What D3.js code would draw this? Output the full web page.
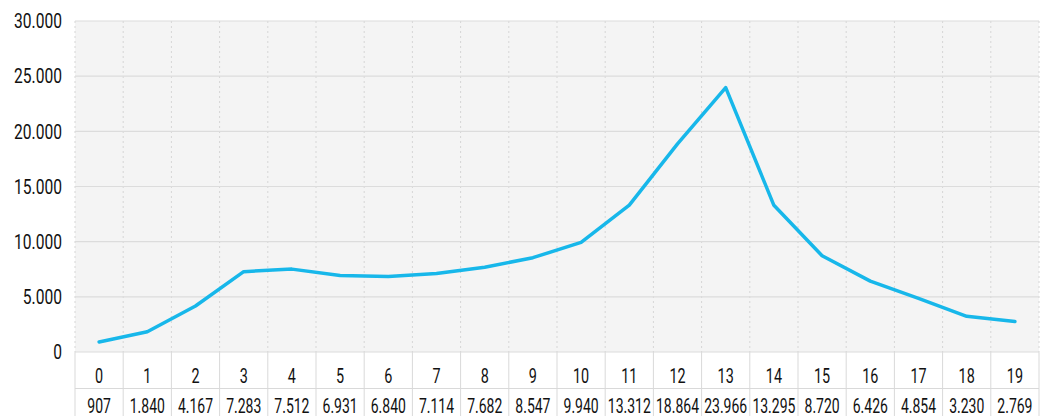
<!DOCTYPE html>
<html><head><meta charset="utf-8">
<script src="https://cdn.jsdelivr.net/npm/d3@7"></script>
<style>
html,body{margin:0;padding:0;background:#fff;}
text{font-family:Roboto,"Liberation Sans",sans-serif;fill:#111;}
</style></head>
<body><svg id="c" width="1041" height="416"></svg>
<script>
const categories = ["0","1","2","3","4","5","6","7","8","9","10","11","12","13","14","15","16","17","18","19"];
const values = [907,1840,4167,7283,7512,6931,6840,7114,7682,8547,9940,13312,18864,23966,13295,8720,6426,4854,3230,2769];
const yTicks = [0,5000,10000,15000,20000,25000,30000];

const svg = d3.select("#c");
const L = 75, R = 1039, T = 21, B = 352;
const x = d3.scaleBand().domain(categories).range([L, R]);
const y = d3.scaleLinear().domain([0, 30000]).range([B, T]);
const fmt = v => d3.format(",")(v).replace(/,/g, ".");

svg.append("rect").attr("x", L).attr("y", T).attr("width", R - L).attr("height", B - T).attr("fill", "#f4f4f4");

const bounds = categories.map(c => x(c)).concat([R]);
svg.append("g").selectAll("line").data(bounds).join("line")
  .attr("x1", d => d).attr("x2", d => d).attr("y1", T).attr("y2", B)
  .attr("stroke", "#d6d6d6").attr("stroke-dasharray", "2,3");

svg.append("g").selectAll("line").data(yTicks).join("line")
  .attr("x1", L).attr("x2", R).attr("y1", d => y(d)).attr("y2", d => y(d))
  .attr("stroke", "#dcdcdc").attr("stroke-width", 1.2);

svg.append("g").selectAll("text").data(yTicks).join("text")
  .attr("transform", d => `translate(62,${y(d)}) scale(0.78,1)`).attr("dy", "0.36em")
  .attr("text-anchor", "end").attr("font-size", 20).text(d => fmt(d));

const tg = svg.append("g");
tg.selectAll("line.v").data(bounds).join("line").attr("class", "v")
  .attr("x1", d => d).attr("x2", d => d).attr("y1", B).attr("y2", 416)
  .attr("stroke", "#d9d9d9");
tg.append("line").attr("x1", L).attr("x2", R).attr("y1", 388.5).attr("y2", 388.5).attr("stroke", "#d9d9d9");
tg.selectAll("text.c").data(categories).join("text").attr("class", "c")
  .attr("transform", d => `translate(${x(d) + x.bandwidth() / 2},376) scale(0.72,1)`).attr("dy", "0.36em")
  .attr("text-anchor", "middle").attr("font-size", 20).text(d => d);
tg.selectAll("text.v").data(values).join("text").attr("class", "v")
  .attr("transform", (d, i) => `translate(${x(categories[i]) + x.bandwidth() / 2},406) scale(0.7,1)`).attr("dy", "0.36em")
  .attr("text-anchor", "middle").attr("font-size", 20).text(d => fmt(d));

const line = d3.line().x((d, i) => x(categories[i]) + x.bandwidth() / 2).y(d => y(d));
svg.append("path").datum(values).attr("d", line).attr("fill", "none")
  .attr("stroke", "#17b7ea").attr("stroke-width", 3.5).attr("stroke-linejoin", "round").attr("stroke-linecap", "round");
</script></body></html>
